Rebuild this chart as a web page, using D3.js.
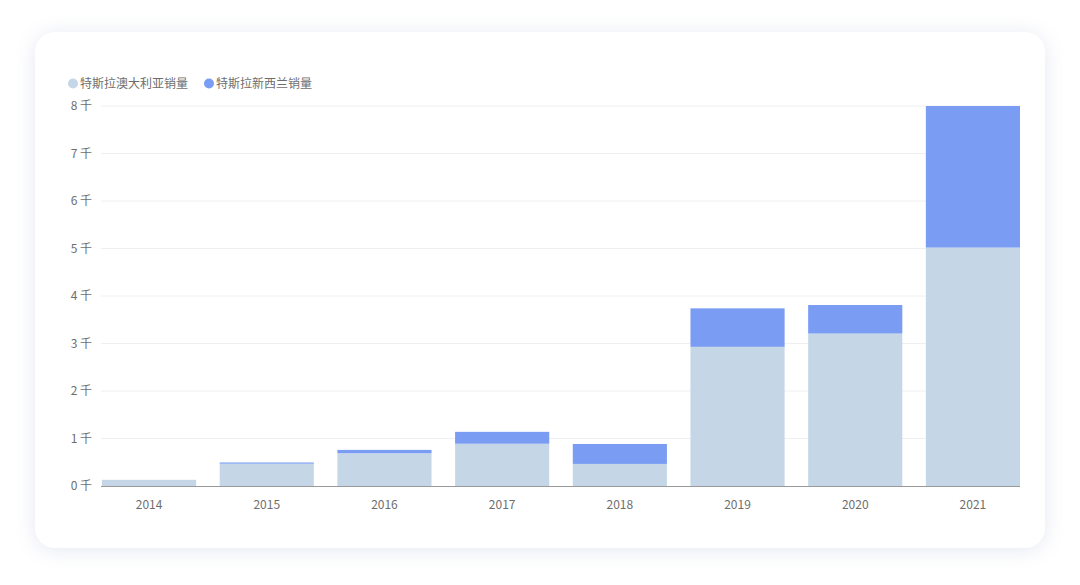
<!DOCTYPE html>
<html><head><meta charset="utf-8">
<script src="https://cdn.jsdelivr.net/npm/d3@7"></script>
<style>
html,body{margin:0;padding:0;background:#ffffff;}
svg{display:block;font-family:"Noto Sans CJK SC","Noto Sans",sans-serif;}
</style></head><body>
<svg id="c" width="1080" height="585"></svg>
<script>
const years = ["2014","2015","2016","2017","2018","2019","2020","2021"];
const seriesNames = ["特斯拉澳大利亚销量","特斯拉新西兰销量"];
const australia = [130, 470, 690, 890, 465, 2930, 3210, 5020];
const newZealand = [0, 25, 70, 250, 420, 810, 600, 2980];
const yTicks = [0,1000,2000,3000,4000,5000,6000,7000,8000];
const colors = ["#c5d7e7","#7a9cf2"];

(function(){
const svg = d3.select("#c");
const defs = svg.append("defs");
const f = defs.append("filter").attr("id","sh").attr("x","-10%").attr("y","-10%").attr("width","120%").attr("height","120%");
f.append("feDropShadow").attr("dx",0).attr("dy",2).attr("stdDeviation",10).attr("flood-color","#c8cde0").attr("flood-opacity",0.45);

svg.append("rect").attr("x",35).attr("y",32).attr("width",1010).attr("height",516).attr("rx",20)
  .attr("fill","#fff").attr("filter","url(#sh)");

const pL=101,pR=1020,pT=106,pB=486;
const x = d3.scaleBand().domain(years).range([102,1020]).paddingInner(0.2).paddingOuter(0);
const y = d3.scaleLinear().domain([0,8000]).range([pB,pT]);

svg.append("g").selectAll("line").data(yTicks.slice(1)).join("line")
  .attr("x1",pL).attr("x2",pR).attr("y1",d=>y(d)).attr("y2",d=>y(d))
  .attr("stroke","#edf0f3").attr("stroke-width",1);

svg.append("g").selectAll("text").data(yTicks).join("text")
  .attr("x",92).attr("y",d=>y(d)).attr("dy","0.35em").attr("text-anchor","end")
  .attr("font-size",12).attr("fill","#6e6e6e").text(d=>(d/1000)+" 千");

const stackData = years.map((yr,i)=>({year:yr,a:australia[i],n:newZealand[i]}));
const stack = d3.stack().keys(["a","n"])(stackData);
svg.append("g").selectAll("g").data(stack).join("g").attr("fill",(d,i)=>colors[i])
  .selectAll("rect").data(d=>d).join("rect")
  .attr("x",d=>x(d.data.year)).attr("width",x.bandwidth())
  .attr("y",d=>y(d[1])).attr("height",d=>Math.max(0,y(d[0])-y(d[1])));

svg.append("line").attr("x1",pL).attr("x2",pR).attr("y1",pB+0.5).attr("y2",pB+0.5)
  .attr("stroke","#9a9a9a").attr("stroke-width",1);

svg.append("g").selectAll("text").data(years).join("text")
  .attr("x",d=>x(d)+x.bandwidth()/2).attr("y",505).attr("dy","0.35em").attr("text-anchor","middle")
  .attr("font-size",12).attr("fill","#6e6e6e").text(d=>d);

const lg = svg.append("g");
const lx=[73,209];
seriesNames.forEach((n,i)=>{
  lg.append("circle").attr("cx",lx[i]).attr("cy",83.5).attr("r",5).attr("fill",colors[i]);
  lg.append("text").attr("x",lx[i]+7).attr("y",83.5).attr("dy","0.35em").attr("font-size",12)
    .attr("fill","#6e6e6e").text(n);
});
})();
</script></body></html>
